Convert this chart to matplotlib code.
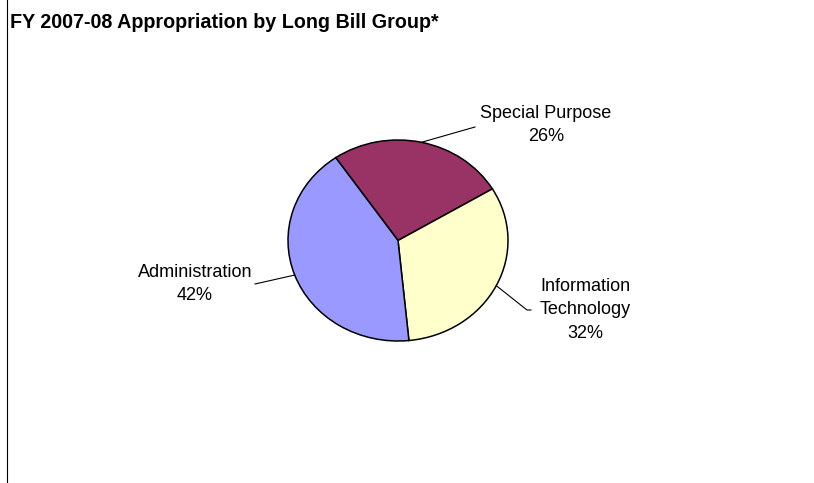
import numpy as np
import matplotlib
matplotlib.use('Agg')
import matplotlib.pyplot as plt
from matplotlib import font_manager

# data
groups = ['Special Purpose', 'Information Technology', 'Administration']
shares = [26, 32, 42]
label_texts = ['Special Purpose\n26%', 'Information\nTechnology\n32%', 'Administration\n42%']
colors = ['#993366', '#FFFFCC', '#9999FF']
title = 'FY 2007-08 Appropriation by Long Bill Group*'

W, H = 814, 483
fig = plt.figure(figsize=(W / 100, H / 100), dpi=100)

# pie is slightly wider than tall in the original
cx, cy, rx, ry = 398, 240.5, 110, 100.5
ax = fig.add_axes([(cx - 1.1 * rx) / W, (H - cy - 1.1 * ry) / H, 2.2 * rx / W, 2.2 * ry / H])

wedges, _ = ax.pie(shares, colors=colors, startangle=124.5, counterclock=False,
                   wedgeprops=dict(edgecolor='black', linewidth=1.1))
ax.set_aspect('auto')
ax.set_xlim(-1.1, 1.1)
ax.set_ylim(-1.1, 1.1)
ax.axis('off')


# pixel (from top-left) -> pie data coords
def px(x, y):
    return (x - cx) / rx, (cy - y) / ry


# leader line end points and label centres, in pixels
leader_ends = [[(475, 127)], [(527, 310), (531, 310)], [(255, 284)]]
label_pos = [(546, 125), (585, 310), (195, 284)]

for w, ends, txt, pos in zip(wedges, leader_ends, label_texts, label_pos):
    mid = np.deg2rad((w.theta1 + w.theta2) / 2)
    xs = [np.cos(mid)] + [px(*p)[0] for p in ends]
    ys = [np.sin(mid)] + [px(*p)[1] for p in ends]
    ax.plot(xs, ys, color='black', lw=0.8, clip_on=False)
    tx, ty = px(*pos)
    ax.text(tx, ty, txt, ha='center', va='center', multialignment='center',
            fontsize=13, family=['Liberation Sans', 'DejaVu Sans'], linespacing=1.5)

# title: narrow bold face if we have it
names = {f.name for f in font_manager.fontManager.ttflist}
if 'Liberation Sans Narrow' in names:
    tfont, tsize = 'Liberation Sans Narrow', 17.3
else:
    tfont, tsize = 'Liberation Sans', 14.2
fig.text(10 / W, 1 - 28 / H, title, ha='left', va='baseline', fontweight='bold',
         fontsize=tsize, family=[tfont, 'DejaVu Sans'])

# left border line
fig.add_artist(plt.Line2D([7 / W, 7 / W], [1.5 / H, 1], color='black', lw=0.8))

fig.savefig('out.png', dpi=100)
